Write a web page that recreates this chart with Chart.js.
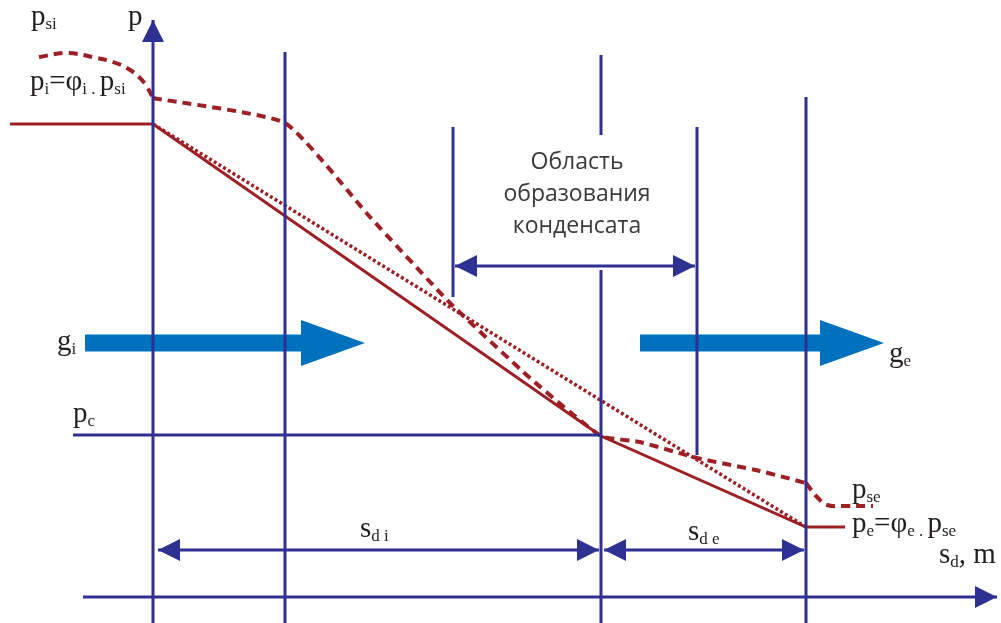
<!DOCTYPE html>
<html>
<head>
<meta charset="utf-8">
<script src="https://cdn.jsdelivr.net/npm/chart.js@4"></script>
<style>
  body { margin: 0; background: #fff; }
  #wrap { width: 1001px; height: 623px; }
</style>
</head>
<body>
<div id="wrap"><canvas id="diagram"></canvas></div>
<script>
// s - position across the wall, p - vapour pressure (schematic units)
const pS = [10, 153, 601, 806, 845];
const pP = [499, 499, 187, 96, 96];
const pLinS = [153, 806];
const pLinP = [499, 96];
// saturation pressure, split into pieces: indoor curve, wall, outdoor curve
const psatInS = [39, 67, 97, 113, 127, 140, 147, 153];
const psatInP = [566, 570, 565, 561, 555, 545, 536, 525];
const psatWallS = [153, 285, 370, 450, 530, 601, 640, 697, 760, 806];
const psatWallP = [525, 500, 406, 320, 245, 187, 181, 165, 152, 140];
const psatOutS = [806, 817, 827, 845, 873];
const psatOutP = [140, 126, 118, 117, 117];

// layer boundaries (s) and their extents (p)
const layerS = [285, 453, 601, 601, 697, 806];
const layerTop = [571, 496, 568, 353, 496, 526];
const layerBottom = [0, 326, 488, 0, 168, 0];

// axes
const axisP = { s: 153, from: 1, to: 603 };
const axisS = { p: 26, from: 83, to: 997 };
const pcLevel = 188;
const pcFrom = 73, pcTo = 601;

// dimension arrows
const dimP = [73, 73, 357];
const dimFrom = [158, 604, 455];
const dimTo = [599, 804, 695];

// vapour flow arrows
const flowP = 280;
const flowFrom = [85, 640];
const flowTo = [301, 820];

const BLUE = '#2E3192';
const RED = '#9E1F24';
const FLOW = '#0071BC';

function pts(xs, ys) {
    return xs.map((x, i) => ({ x: x, y: ys[i] }));
}

const datasets = [];

// layer lines
layerS.forEach((s, i) => {
    datasets.push({ data: [{ x: s, y: layerBottom[i] }, { x: s, y: layerTop[i] }], borderColor: BLUE, borderWidth: 3 });
});
datasets.push({ data: [{ x: axisP.s, y: 0 }, { x: axisP.s, y: axisP.to }], borderColor: BLUE, borderWidth: 3,
    arrow: { ends: ['end'], len: 22, half: 11 } });
datasets.push({ data: [{ x: axisS.from, y: axisS.p }, { x: axisS.to, y: axisS.p }], borderColor: BLUE, borderWidth: 3,
    arrow: { ends: ['end'], len: 22, half: 11 } });
datasets.push({ data: [{ x: pcFrom, y: pcLevel }, { x: pcTo, y: pcLevel }], borderColor: BLUE, borderWidth: 3 });
dimP.forEach((p, i) => {
    datasets.push({ data: [{ x: dimFrom[i], y: p }, { x: dimTo[i], y: p }], borderColor: BLUE, borderWidth: 3,
        arrow: { ends: ['start', 'end'], len: 22, half: 11 } });
});
flowFrom.forEach((s, i) => {
    datasets.push({ data: [{ x: s, y: flowP }, { x: flowTo[i], y: flowP }], borderColor: FLOW, borderWidth: 17,
        borderCapStyle: 'butt', arrow: { ends: ['end'], len: 64, half: 23, beyond: true, color: FLOW } });
});

// pressures
datasets.push({ data: pts(psatInS, psatInP), borderColor: RED, borderWidth: 4, borderDash: [9, 6], tension: 0.4 });
datasets.push({ data: pts(psatWallS, psatWallP), borderColor: RED, borderWidth: 4, borderDash: [9, 6], tension: 0.15 });
datasets.push({ data: pts(psatOutS, psatOutP), borderColor: RED, borderWidth: 4, borderDash: [9, 6], tension: 0.4 });
datasets.push({ data: pts(pLinS, pLinP), borderColor: RED, borderWidth: 3.5, borderDash: [3, 2.5] });
datasets.push({ data: pts(pS, pP), borderColor: RED, borderWidth: 3 });

// labels: [s, p, [[text, sub?], ...]]
const labels = [
    [31, 598, [['p'], ['si', 1]]],
    [128, 598, [['p']]],
    [30, 533, [['p'], ['i', 1], ['=φ'], ['i', 1], [' . ', 1], ['p'], ['si', 1]]],
    [57, 273, [['g'], ['i', 1]]],
    [73, 201, [['p'], ['c', 1]]],
    [360, 86, [['s'], ['d i', 1]]],
    [688, 83, [['s'], ['d e', 1]]],
    [852, 125, [['p'], ['se', 1]]],
    [852, 91, [['p'], ['e', 1], ['=φ'], ['e', 1], [' . ', 1], ['p'], ['se', 1]]],
    [939, 60, [['s'], ['d', 1], [', m']]],
    [889, 261, [['g'], ['e', 1]]]
];
const zoneText = ['Область', 'образования', 'конденсата'];

const decor = {
    id: 'decor',
    afterDatasetsDraw(chart) {
        const ctx = chart.ctx;
        const xs = chart.scales.x, ys = chart.scales.y;
        chart.data.datasets.forEach((ds, i) => {
            if (!ds.arrow) return;
            const el = chart.getDatasetMeta(i).data;
            ds.arrow.ends.forEach(end => {
                const a = end === 'end' ? el[el.length - 1] : el[0];
                const b = end === 'end' ? el[el.length - 2] : el[1];
                let dx = a.x - b.x, dy = a.y - b.y;
                const l = Math.hypot(dx, dy);
                dx /= l; dy /= l;
                const tipX = ds.arrow.beyond ? a.x + dx * ds.arrow.len : a.x;
                const tipY = ds.arrow.beyond ? a.y + dy * ds.arrow.len : a.y;
                const bx = tipX - dx * ds.arrow.len, by = tipY - dy * ds.arrow.len;
                ctx.save();
                ctx.fillStyle = ds.arrow.color || ds.borderColor;
                ctx.beginPath();
                ctx.moveTo(tipX, tipY);
                ctx.lineTo(bx - dy * ds.arrow.half, by + dx * ds.arrow.half);
                ctx.lineTo(bx + dy * ds.arrow.half, by - dx * ds.arrow.half);
                ctx.closePath();
                ctx.fill();
                ctx.restore();
            });
        });

        ctx.save();
        ctx.fillStyle = '#231F20';
        ctx.textBaseline = 'alphabetic';
        labels.forEach(([s, p, parts]) => {
            let x = xs.getPixelForValue(s);
            const y = ys.getPixelForValue(p);
            parts.forEach(([t, sub]) => {
                ctx.font = sub ? '17px "Liberation Serif"' : '29px "Liberation Serif"';
                ctx.fillText(t, x, sub ? y + 4 : y);
                x += ctx.measureText(t).width;
            });
        });
        ctx.font = '23px "Open Sans"';
        ctx.fillStyle = '#3a3a3a';
        ctx.textAlign = 'center';
        zoneText.forEach((t, i) => {
            ctx.fillText(t, xs.getPixelForValue(577), ys.getPixelForValue(454 - i * 32));
        });
        ctx.restore();
    }
};

new Chart(document.getElementById('diagram'), {
    type: 'scatter',
    data: { datasets: datasets.map(d => Object.assign({ showLine: true, pointRadius: 0, fill: false }, d)) },
    options: {
        responsive: true,
        maintainAspectRatio: false,
        animation: false,
        layout: { padding: 0 },
        plugins: { legend: { display: false }, tooltip: { enabled: false } },
        scales: {
            x: { type: 'linear', min: 0, max: 1001, display: false },
            y: { type: 'linear', min: 0, max: 623, display: false }
        }
    },
    plugins: [decor]
});
</script>
</body>
</html>
